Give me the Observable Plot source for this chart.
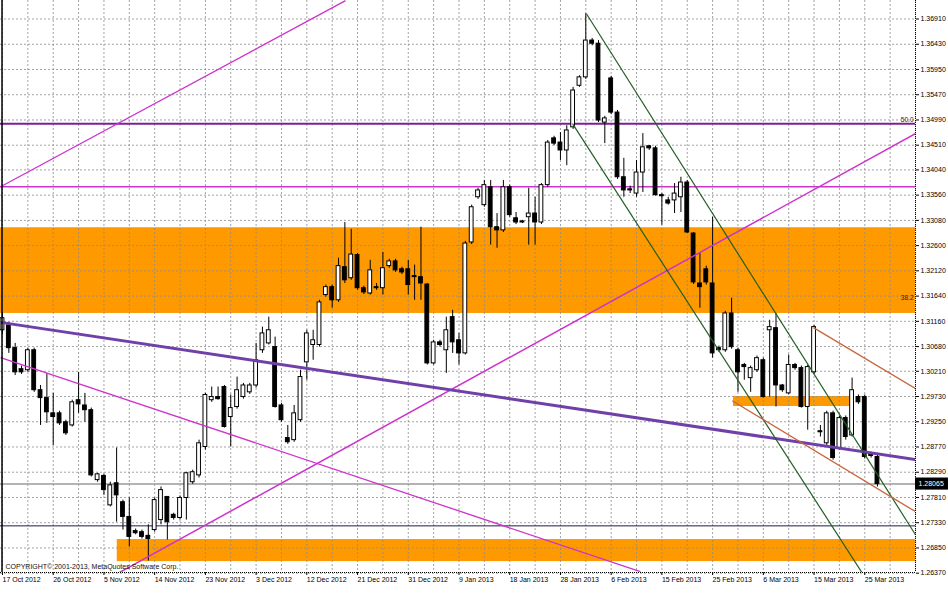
<!DOCTYPE html>
<html><head><meta charset="utf-8">
<script src="https://cdn.jsdelivr.net/npm/d3@7"></script>
<script src="https://cdn.jsdelivr.net/npm/@observablehq/plot@0.6"></script>
<style>html,body{margin:0;padding:0;background:#fff;overflow:hidden} svg{display:block}</style>
</head><body><div id="chart"></div>
<script>
// EURUSD daily (MT4 style, Sunday bars) 17 Oct 2012 - 27 Mar 2013
const open = [1.3099,1.3108,1.3065,1.3025,1.3023,1.3061,1.2985,1.2970,1.2941,1.2941,
1.2924,1.2918,1.2966,1.2956,1.2947,1.2814,1.2822,1.2766,1.2808,1.2772,
1.2744,1.2717,1.2715,1.2708,1.2719,1.2738,1.2782,1.2748,1.2742,1.2780,
1.2810,1.2823,1.2877,1.2966,1.2972,1.2991,1.2934,1.2953,1.2972,1.2981,
1.2994,1.3061,1.3074,1.3067,1.2956,1.2894,1.2890,1.2928,1.3038,1.3071,
1.3071,1.3166,1.3181,1.3156,1.3219,1.3198,1.3242,1.3179,1.3169,1.3181,
1.3179,1.3221,1.3230,1.3215,1.3215,1.3202,1.3200,1.3186,1.3036,1.3076,
1.3061,1.3124,1.3080,1.3055,1.3266,1.3352,1.3337,1.3371,1.3295,1.3289,
1.3371,1.3312,1.3306,1.3314,1.3321,1.3304,1.3375,1.3464,1.3456,1.3441,
1.3485,1.3564,1.3580,1.3650,1.3644,1.3494,1.3578,1.3513,1.3390,1.3367,
1.3359,1.3399,1.3449,1.3445,1.3356,1.3346,1.3346,1.3352,1.3380,1.3283,
1.3188,1.3215,1.3188,1.3065,1.3061,1.3131,1.3061,1.3033,1.3008,1.3023,
1.3042,1.3099,1.3103,1.2994,1.2979,1.3033,1.3027,1.2953,1.3019,1.2907,
1.2884,1.2941,1.2875,1.2932,1.2899,1.2972,1.2972,1.2862,1.2858];
const high = [1.3133,1.3114,1.3074,1.3031,1.3065,1.3065,1.2994,1.3017,1.2979,1.2945,
1.2928,1.2966,1.3019,1.2979,1.2951,1.2827,1.2825,1.2810,1.2875,1.2776,
1.2780,1.2721,1.2719,1.2729,1.2780,1.2801,1.2782,1.2751,1.2784,1.2829,
1.2833,1.2890,1.2979,1.2991,1.2991,1.2994,1.2976,1.3010,1.2998,1.2998,
1.3074,1.3105,1.3124,1.3086,1.2960,1.2918,1.2956,1.3023,1.3099,1.3099,
1.3156,1.3185,1.3185,1.3236,1.3304,1.3291,1.3245,1.3183,1.3232,1.3188,
1.3247,1.3234,1.3234,1.3219,1.3232,1.3223,1.3295,1.3188,1.3080,1.3080,
1.3124,1.3137,1.3093,1.3268,1.3337,1.3369,1.3384,1.3384,1.3321,1.3384,
1.3375,1.3323,1.3308,1.3369,1.3352,1.3378,1.3460,1.3468,1.3475,1.3488,
1.3561,1.3583,1.3701,1.3654,1.3650,1.3506,1.3582,1.3517,1.3426,1.3373,
1.3422,1.3473,1.3450,1.3449,1.3359,1.3352,1.3378,1.3390,1.3384,1.3285,
1.3245,1.3221,1.3314,1.3069,1.3135,1.3160,1.3065,1.3036,1.3031,1.3050,
1.3046,1.3118,1.3131,1.2996,1.3052,1.3036,1.3031,1.3033,1.3108,1.2918,
1.2945,1.2945,1.2936,1.2936,1.3008,1.2976,1.2976,1.2867,1.2865];
const low = [1.3090,1.3055,1.3013,1.3015,1.3019,1.2981,1.2918,1.2922,1.2880,1.2918,
1.2899,1.2915,1.2941,1.2924,1.2820,1.2810,1.2785,1.2763,1.2734,1.2719,
1.2687,1.2710,1.2702,1.2660,1.2715,1.2729,1.2700,1.2738,1.2738,1.2738,
1.2806,1.2818,1.2871,1.2962,1.2966,1.2913,1.2877,1.2949,1.2968,1.2977,
1.2989,1.3055,1.3071,1.2951,1.2924,1.2882,1.2886,1.2924,1.3004,1.3042,
1.3067,1.3162,1.3141,1.3152,1.3188,1.3194,1.3175,1.3167,1.3166,1.3175,
1.3166,1.3217,1.3209,1.3205,1.3166,1.3156,1.3156,1.3033,1.3033,1.3067,
1.3017,1.3055,1.3033,1.3052,1.3262,1.3348,1.3333,1.3261,1.3255,1.3285,
1.3314,1.3300,1.3302,1.3261,1.3261,1.3300,1.3371,1.3450,1.3422,1.3412,
1.3481,1.3561,1.3576,1.3640,1.3494,1.3454,1.3509,1.3386,1.3352,1.3359,
1.3352,1.3361,1.3441,1.3354,1.3299,1.3337,1.3321,1.3323,1.3283,1.3186,
1.3141,1.3185,1.3046,1.3057,1.3057,1.3063,1.2981,1.3004,1.2981,1.3019,
1.2970,1.2972,1.2953,1.2981,1.2976,1.3023,1.2951,1.2909,1.3015,1.2896,
1.2880,1.2852,1.2871,1.2890,1.2896,1.2958,1.2854,1.2856,1.2801];
const close = [1.3122,1.3065,1.3019,1.3019,1.3061,1.2985,1.2970,1.2943,1.2934,1.2922,
1.2903,1.2962,1.2958,1.2947,1.2823,1.2825,1.2795,1.2804,1.2785,1.2744,
1.2706,1.2713,1.2706,1.2702,1.2776,1.2795,1.2734,1.2742,1.2780,1.2827,
1.2829,1.2884,1.2976,1.2972,1.2968,1.2915,1.2951,1.2985,1.2994,1.2994,
1.3042,1.3093,1.3099,1.2953,1.2928,1.2886,1.2941,1.3010,1.3093,1.3080,
1.3152,1.3181,1.3156,1.3221,1.3194,1.3243,1.3179,1.3171,1.3213,1.3179,
1.3217,1.3230,1.3213,1.3209,1.3185,1.3200,1.3188,1.3036,1.3076,1.3071,
1.3099,1.3076,1.3055,1.3264,1.3333,1.3365,1.3375,1.3295,1.3289,1.3371,
1.3318,1.3304,1.3304,1.3321,1.3304,1.3375,1.3456,1.3454,1.3441,1.3479,
1.3555,1.3580,1.3650,1.3644,1.3498,1.3502,1.3513,1.3390,1.3365,1.3365,
1.3399,1.3447,1.3445,1.3356,1.3354,1.3340,1.3359,1.3380,1.3285,1.3190,
1.3181,1.3190,1.3055,1.3061,1.3131,1.3067,1.3019,1.3029,1.3027,1.3046,
1.2972,1.3105,1.2994,1.2985,1.3033,1.3027,1.2953,1.3029,1.3105,1.2905,
1.2941,1.2856,1.2932,1.2896,1.2985,1.2962,1.2858,1.2860,1.28065];

const dateLabels = ["17 Oct 2012","26 Oct 2012","5 Nov 2012","14 Nov 2012","23 Nov 2012","3 Dec 2012",
"12 Dec 2012","21 Dec 2012","31 Dec 2012","9 Jan 2013","18 Jan 2013","28 Jan 2013","6 Feb 2013",
"15 Feb 2013","25 Feb 2013","6 Mar 2013","15 Mar 2013","25 Mar 2013"];
const yTickLabels = ["1.36910","1.36430","1.35950","1.35470","1.34990","1.34510","1.34040","1.33560",
"1.33080","1.32600","1.32120","1.31640","1.31160","1.30680","1.30210","1.29730","1.29250","1.28770",
"1.28290","1.27810","1.27330","1.26850","1.26370"];

// horizontal levels
const fib50 = 1.3492, fib382 = 1.3149;
const magentaLevel = 1.3372;
const navyLevel = 1.2727;

// zones [bar from, bar to, price low, price high]
const zoneFrom = [-1, 18.1, 115.3];
const zoneTo = [150, 150, 133.8];
const zoneLow = [1.3131, 1.2659, 1.2954];
const zoneHigh = [1.3294, 1.2701, 1.2973];

// trendlines: bar1, price1, bar2, price2, colour, width
const lineBar1 = [-0.3, -0.3, 17.5, -0.3, 92.1, 89.9, 127.9, 115.1];
const linePrice1 = [1.3372, 1.3047, 1.2632, 1.3114, 1.3701, 1.3492, 1.3104, 1.2965];
const lineBar2 = [54.1, 100.6, 144, 144, 144, 137.7, 144, 144];
const linePrice2 = [1.3726, 1.2640, 1.3473, 1.2853, 1.2710, 1.2598, 1.2988, 1.2754];
const lineColor = ["#cc33cc", "#cc33cc", "#cc33cc", "#7040a8", "#235f23", "#235f23", "#c8643c", "#c8643c"];
const lineWidth = [1.3, 1.3, 1.5, 3, 1.2, 1.2, 1.3, 1.3];

const xDomain = [-0.315, 144.0];
const yDomain = [1.26383, 1.37262];

const candles = open.map((o, i) => ({i, o, h: high[i], l: low[i], c: close[i]}));
const zones = zoneFrom.map((f, k) => ({x1: f, x2: zoneTo[k], y1: zoneLow[k], y2: zoneHigh[k]}));
const lines = lineBar1.map((b, k) => ({x1: b, y1: linePrice1[k], x2: lineBar2[k], y2: linePrice2[k], stroke: lineColor[k], w: lineWidth[k]}));
const yTicks = yTickLabels.map(Number);
const labelBars = dateLabels.map((d, k) => k * 8);
const gridBars = d3.range(0, 145, 4);
const lastClose = close[close.length - 1];
// price-label box spans the right margin (about 5.2 bars wide, ±0.00115 tall)
const boxW = 5.2, boxH = 0.00115;

const plot = Plot.plot({
  width: 948, height: 593,
  marginLeft: 0, marginRight: 33, marginTop: 0, marginBottom: 21,
  style: {fontFamily: "'Liberation Sans', Arial, sans-serif", fontSize: "7px", background: "#fff", color: "#000"},
  x: {domain: xDomain, axis: null},
  y: {domain: yDomain, axis: null},
  marks: [
    Plot.rect(zones, {x1: "x1", x2: "x2", y1: "y1", y2: "y2", fill: "#ff9900", clip: true}),
    Plot.ruleY(yTicks, {stroke: "#8c8c8c", strokeDasharray: "2,2", strokeWidth: 1, strokeOpacity: 0.8}),
    Plot.ruleX(gridBars, {stroke: "#8c8c8c", strokeDasharray: "2,2", strokeWidth: 1, strokeOpacity: 0.8}),
    Plot.ruleY([lastClose], {stroke: "#9a9a9a", strokeWidth: 1.5}),
    Plot.ruleY([navyLevel], {stroke: "#1c1c4c", strokeWidth: 1}),
    Plot.ruleY([magentaLevel], {stroke: "#cc33cc", strokeWidth: 1.3}),
    Plot.ruleY([fib50], {stroke: "#7a1f9a", strokeWidth: 2}),
    Plot.ruleX(candles, {x: "i", y1: "l", y2: "h", stroke: "#000", strokeWidth: 1}),
    Plot.rect(candles, {x1: d => d.i - 0.3, x2: d => d.i + 0.3, y1: "o", y2: "c",
      fill: d => d.c >= d.o ? "white" : "black", stroke: "#000", strokeWidth: 1}),
    Plot.link(lines, {x1: "x1", y1: "y1", x2: "x2", y2: "y2", stroke: "stroke", strokeWidth: "w", clip: true}),
    Plot.text([fib50], {x: xDomain[1], y: d => d, text: () => "50.0", textAnchor: "end", dx: -2, dy: -4, fontSize: 6.5, fill: "#222"}),
    Plot.text([fib382], {x: xDomain[1], y: d => d, text: () => "38.2", textAnchor: "end", dx: -2, dy: -6, fontSize: 6.5, fill: "#222"}),
    Plot.text(["COPYRIGHT\u00a9 2001-2013, MetaQuotes Software Corp."], {frameAnchor: "bottom-left", dx: 5, dy: -4, fontSize: 7, fill: "#111", textAnchor: "start"}),
    Plot.ruleX([xDomain[0]], {stroke: "#000", strokeWidth: 1.5, dx: 1.5}),
    Plot.ruleX([xDomain[1]], {stroke: "#000", strokeDasharray: "1,1"}),
    Plot.ruleY([yDomain[0]], {stroke: "#000", strokeDasharray: "1,1"}),
    Plot.axisY({anchor: "right", ticks: yTicks, tickFormat: d => yTickLabels[yTicks.indexOf(d)], tickSize: 3, tickPadding: 2, fontSize: 7}),
    Plot.axisX({anchor: "bottom", ticks: labelBars, tickFormat: d => dateLabels[d / 8], tickSize: 3, tickPadding: 2, textAnchor: "start", fontSize: 7}),
    // current price label on the right axis
    Plot.rect([lastClose], {x1: () => xDomain[1], x2: () => xDomain[1] + boxW, y1: d => d - boxH, y2: d => d + boxH, fill: "#000"}),
    Plot.text([lastClose], {x: xDomain[1], y: d => d, text: d => d.toFixed(5), textAnchor: "start", dx: 3, fontSize: 7, fill: "#fff"})
  ]
});
document.getElementById("chart").appendChild(plot);
</script>
</body></html>
